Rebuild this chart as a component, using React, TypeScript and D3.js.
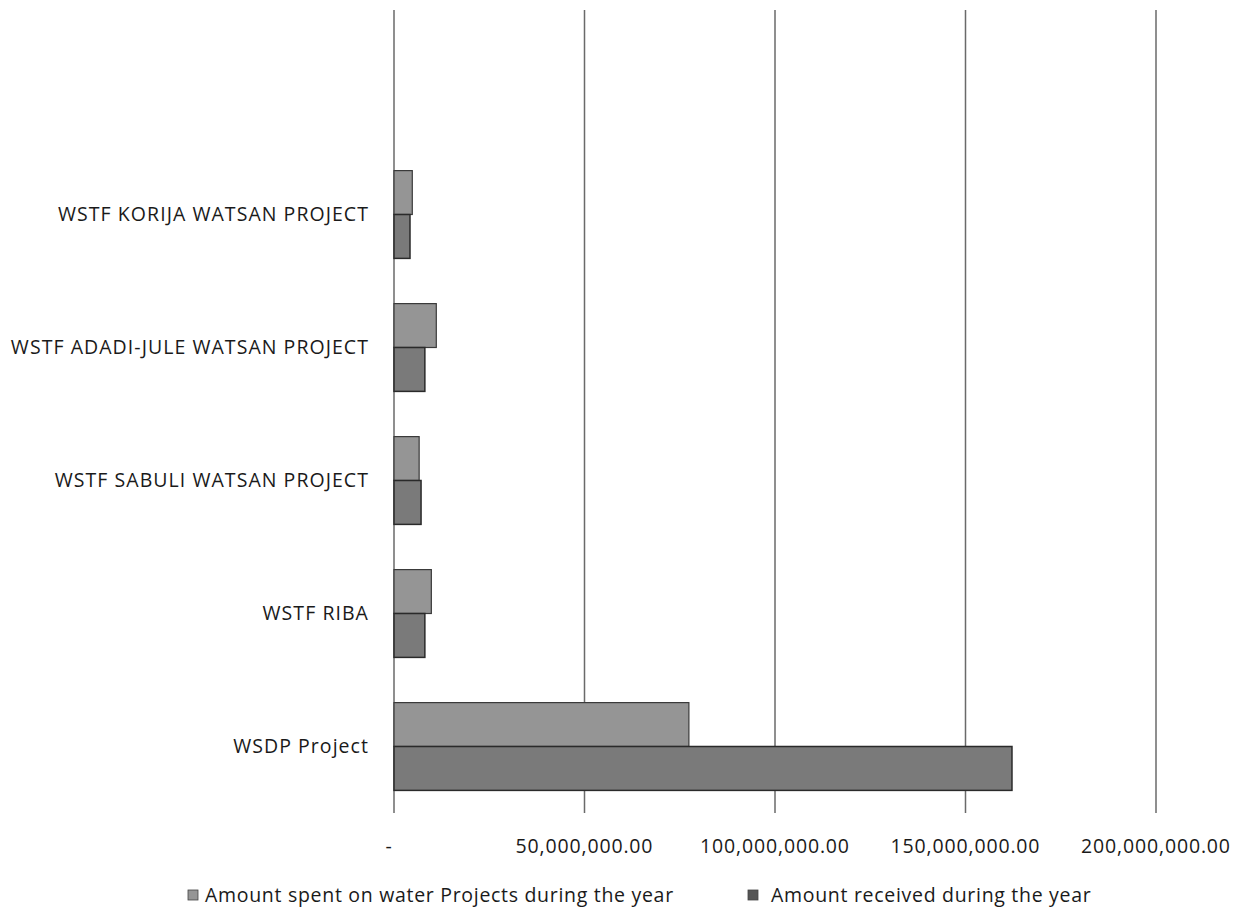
import * as d3 from "d3";
import React, { useEffect, useRef } from "react";

// Categories listed top to bottom, as they appear in the chart
const categories = [
  "WSTF KORIJA WATSAN PROJECT",
  "WSTF ADADI-JULE WATSAN PROJECT",
  "WSTF SABULI WATSAN PROJECT",
  "WSTF RIBA",
  "WSDP Project",
];

const spent = [4800000, 11100000, 6600000, 9800000, 77400000];
const received = [4200000, 8100000, 7100000, 8100000, 162200000];

const seriesNames = [
  "Amount spent on water Projects during the year",
  "Amount received during the year",
];

const tickValues = [0, 50000000, 100000000, 150000000, 200000000];

const App: React.FC = () => {
  const ref = useRef<SVGSVGElement>(null);

  useEffect(() => {
    const width = 1246;
    const height = 912;
    const font = "'Open Sans', 'Noto Sans', sans-serif";
    const fontSize = "19.5px";

    d3.select(ref.current).selectAll("*").remove();

    const svg = d3.select(ref.current)
      .attr("width", width)
      .attr("height", height);

    svg.append("rect")
      .attr("width", width)
      .attr("height", height)
      .attr("fill", "#ffffff");

    // Scales
    const x = d3.scaleLinear()
      .domain([0, 200000000])
      .range([394, 1156]);

    const y = d3.scaleBand()
      .domain(categories)
      .range([148, 813])
      .paddingInner(0.34)
      .paddingOuter(0.17);

    const inner = d3.scaleBand()
      .domain(["spent", "received"])
      .range([0, y.bandwidth()]);

    // Gridlines
    svg.append("g")
      .selectAll("line")
      .data(tickValues)
      .enter()
      .append("line")
      .attr("x1", (d) => x(d))
      .attr("x2", (d) => x(d))
      .attr("y1", 10)
      .attr("y2", 813)
      .attr("stroke", "#6a6a6a")
      .attr("stroke-width", 1.5);

    // Bars
    const groups = svg.append("g")
      .selectAll("g")
      .data(categories)
      .enter()
      .append("g")
      .attr("transform", (d) => `translate(0,${y(d)})`);

    groups.append("rect")
      .attr("x", x(0))
      .attr("y", inner("spent")!)
      .attr("width", (_d, i) => x(spent[i]) - x(0))
      .attr("height", inner.bandwidth())
      .attr("fill", "#959595")
      .attr("stroke", "#3a3a3a")
      .attr("stroke-width", 1.2);

    groups.append("rect")
      .attr("x", x(0))
      .attr("y", inner("received")!)
      .attr("width", (_d, i) => x(received[i]) - x(0))
      .attr("height", inner.bandwidth())
      .attr("fill", "#7a7a7a")
      .attr("stroke", "#2a2a2a")
      .attr("stroke-width", 1.5);

    // Category labels
    svg.append("g")
      .selectAll("text")
      .data(categories)
      .enter()
      .append("text")
      .attr("x", 369)
      .attr("y", (d) => y(d)! + y.bandwidth() / 2)
      .attr("dy", "0.35em")
      .attr("text-anchor", "end")
      .style("font-family", font)
      .style("font-size", fontSize)
      .style("letter-spacing", "1.05px")
      .attr("fill", "#1a1a1a")
      .text((d) => d);

    // Value axis labels
    const fmt = (v: number) => (v === 0 ? "-" : d3.format(",.2f")(v));
    svg.append("g")
      .selectAll("text")
      .data(tickValues)
      .enter()
      .append("text")
      .attr("x", (d) => (d === 0 ? x(d) - 5 : x(d)))
      .attr("y", 846)
      .attr("dy", "0.35em")
      .attr("text-anchor", "middle")
      .style("font-family", font)
      .style("font-size", fontSize)
      .style("letter-spacing", "0.85px")
      .attr("fill", "#1a1a1a")
      .text((d) => fmt(d));

    // Legend
    const legend = svg.append("g");
    const legendX = [188, 748];
    const legendFill = ["#959595", "#555555"];
    seriesNames.forEach((name, i) => {
      legend.append("rect")
        .attr("x", legendX[i])
        .attr("y", 890)
        .attr("width", 10)
        .attr("height", 10)
        .attr("fill", legendFill[i])
        .attr("stroke", "#444")
        .attr("stroke-width", 0.8);
      legend.append("text")
        .attr("x", legendX[i] + (i === 0 ? 17 : 23))
        .attr("y", 895)
        .attr("dy", "0.35em")
        .style("font-family", font)
        .style("font-size", fontSize)
        .style("letter-spacing", "0.7px")
        .attr("fill", "#1a1a1a")
        .text(name);
    });
  }, []);

  return (
    <svg ref={ref} style={{ position: "absolute", left: 0, top: 0 }}></svg>
  );
};

export default App;
